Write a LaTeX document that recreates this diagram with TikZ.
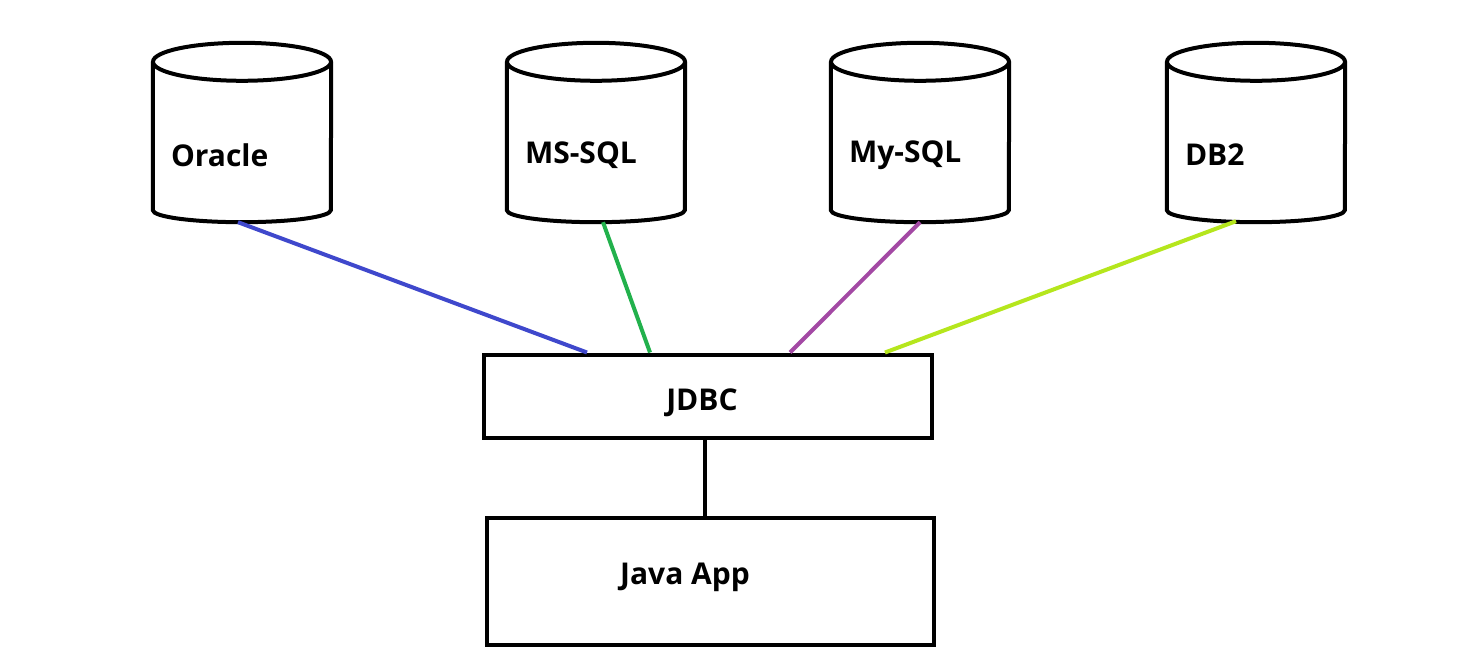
\documentclass[tikz,border=0pt]{standalone}
\usepackage{fontspec}
\setmainfont{Open Sans}
\usetikzlibrary{positioning}
\usetikzlibrary{calc}

\definecolor{oraline}{RGB}{63,72,204}
\definecolor{msline}{RGB}{34,177,76}
\definecolor{myline}{RGB}{163,73,164}
\definecolor{dbline}{RGB}{181,230,29}

\begin{document}
\begin{tikzpicture}[x = 1pt, y = -1pt, font = \fontsize{30}{36}\selectfont\bfseries,
	db/.style = {rectangle, minimum width = 178pt, minimum height = 148pt, inner sep = 0pt},
	dbtext/.style = {anchor = west, inner sep = 0pt, xshift = 18pt, yshift = -19pt},
	box/.style = {rectangle, draw, line width = 4pt, inner sep = 0pt},
	link/.style = {line width = 4pt}]
	\useasboundingbox (0,0) rectangle (1471,668);
	\node[db, label = {[dbtext]west:Oracle}] (ora) at (242,136) {};
	\node[db, label = {[dbtext]west:MS-SQL}] (mss) at (596,136) {};
	\node[db, label = {[dbtext]west:My-SQL}] (mys) at (920,136) {};
	\node[db, label = {[dbtext]west:DB2}] (dbt) at (1256,136) {};
	% cylinder outlines
	\foreach \n in {ora, mss, mys, dbt} {
		\draw[line width = 4pt] (\n.north west) -- (\n.south west) arc[start angle = 180, end angle = 360, x radius = 89pt, y radius = 12pt] -- (\n.north east);
		\draw[line width = 4pt] (\n.north) ellipse [x radius = 89pt, y radius = 19pt];
	}
	\node[box, minimum width = 448pt, minimum height = 83pt, label = {[xshift = -6pt, yshift = -7pt]center:JDBC}] (jdbc) at (708,396) {};
	\node[box, minimum width = 447pt, minimum height = 127pt, below = 76pt of jdbc, xshift = 2pt, label = {[xshift = -25pt, yshift = 4pt]center:Java App}] (app) {};
	\draw[link, oraline] ($(ora.south)+(-4,12)$) -- ($(jdbc.north west)+(105,0)$);
	\draw[link, msline] ($(mss.south)+(7,12)$) -- ($(jdbc.north west)+(168,0)$);
	\draw[link, myline] ($(mys.south)+(0,12)$) -- ($(jdbc.north west)+(308,0)$);
	\draw[link, dbline] ($(dbt.south)+(-20,11)$) -- ($(jdbc.north west)+(403,0)$);
	\draw[line width = 4pt] (jdbc.south -| 705,0) -- (app.north -| 705,0);
\end{tikzpicture}
\end{document}
